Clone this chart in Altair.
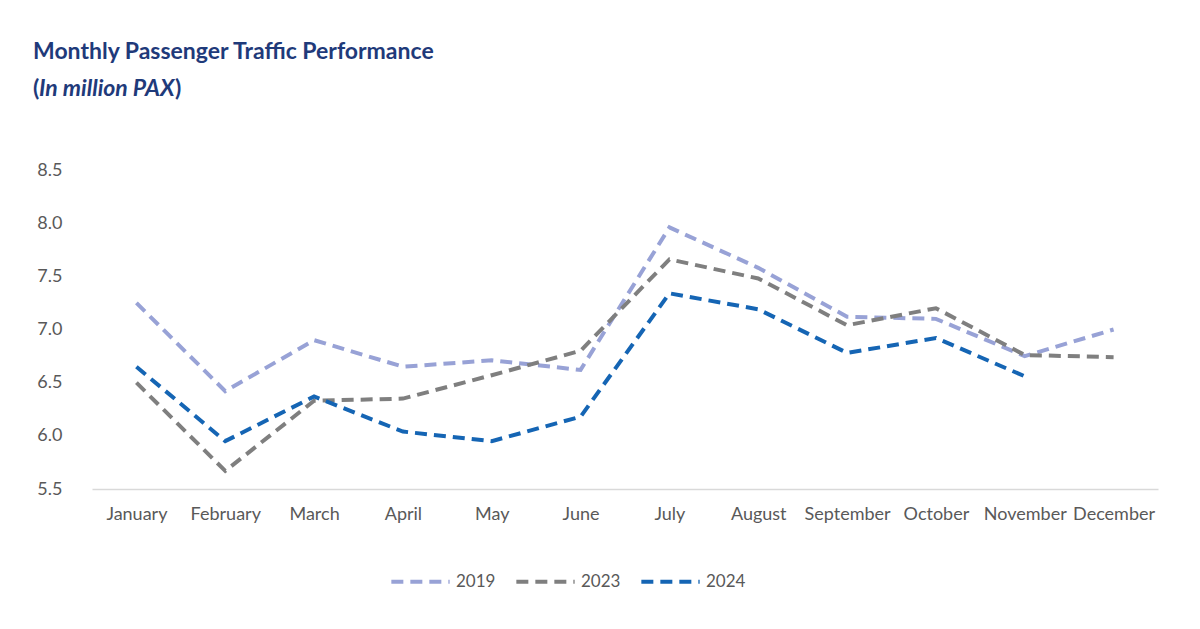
import altair as alt
import pandas as pd

months = ["January", "February", "March", "April", "May", "June", "July",
          "August", "September", "October", "November", "December"]
v2019 = [7.25, 6.42, 6.90, 6.65, 6.71, 6.62, 7.96, 7.58, 7.12, 7.10, 6.75, 7.00]
v2023 = [6.50, 5.67, 6.33, 6.35, 6.57, 6.80, 7.66, 7.48, 7.04, 7.20, 6.76, 6.74]
v2024 = [6.65, 5.95, 6.37, 6.04, 5.95, 6.18, 7.34, 7.19, 6.78, 6.92, 6.56]
years = ["2019", "2023", "2024"]
colors = ["#98A2D6", "#7F7F7F", "#1565B4"]
title1 = "Monthly Passenger Traffic Performance"
title2 = "In million PAX"

rows = []
for yr, vals in zip(years, [v2019, v2023, v2024]):
    for m, v in zip(months, vals):
        rows.append({"Month": m, "Year": yr, "Value": v})
df = pd.DataFrame(rows)

FONT = "Lato"
TITLE_COLOR = "#1F3A7A"
LABEL_COLOR = "#595959"

lines = alt.Chart(df).mark_line(strokeWidth=4, strokeDash=[12, 7]).encode(
    x=alt.X("Month:N", sort=months, scale=alt.Scale(paddingInner=0, paddingOuter=0),
            axis=alt.Axis(title=None, labelAngle=0, ticks=False, domain=True,
                          domainColor="#D9D9D9", domainWidth=1.5, labelPadding=16,
                          labelFontSize=18, labelColor=LABEL_COLOR, labelFont=FONT, grid=False,
                          labelOverlap=False)),
    y=alt.Y("Value:Q", scale=alt.Scale(domain=[5.5, 8.5], nice=False, zero=False),
            axis=alt.Axis(title=None, values=[5.5, 6.0, 6.5, 7.0, 7.5, 8.0, 8.5], format=".1f",
                          ticks=False, domain=False, grid=False, labelPadding=30,
                          labelFontSize=18, labelColor=LABEL_COLOR, labelFont=FONT)),
    color=alt.Color("Year:N", scale=alt.Scale(domain=years, range=colors),
                    legend=alt.Legend(title=None, orient="none", direction="horizontal",
                                      legendX=297, legendY=380, symbolType="stroke",
                                      symbolSize=3400, symbolStrokeWidth=4,
                                      symbolDash=[12, 7], labelFontSize=17,
                                      labelColor=LABEL_COLOR, labelFont=FONT,
                                      columnPadding=12, labelOffset=4)),
    order=alt.Order("Year:N"),
)

def txt(s, x, y, italic=False):
    kw = dict(align="left", baseline="middle", font=FONT, fontSize=23, fontWeight="bold",
              color=TITLE_COLOR)
    if italic:
        kw["fontStyle"] = "italic"
    return alt.Chart(pd.DataFrame({"t": [s]})).mark_text(**kw).encode(
        x=alt.value(x), y=alt.value(y), text="t:N")

t1 = txt(title1, -59, -118)
t2a = txt("(", -59, -81)
t2b = txt(title2, -53, -81, italic=True)
t2c = txt(")", 83, -81)

chart = alt.layer(lines, t1, t2a, t2b, t2c).properties(
    width=1066, height=319,
    autosize=alt.AutoSizeParams(type="none"),
    padding={"left": 84, "top": 162, "right": 26, "bottom": 132},
    background="white",
).configure_view(strokeWidth=0, stroke=None)

chart.save("out.html", embed_options={"renderer": "svg", "actions": False})
